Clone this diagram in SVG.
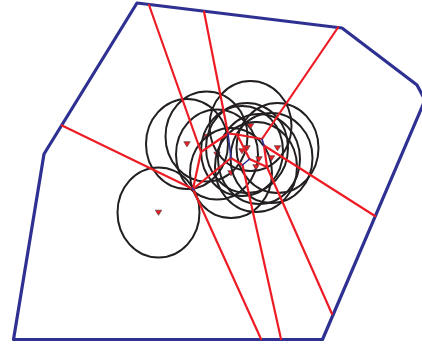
<svg xmlns="http://www.w3.org/2000/svg" width="422" height="346" viewBox="0 0 422 346">
<style>
.bd{fill:none;stroke:#2e3192;stroke-width:3.2;stroke-linejoin:round}
.ed{fill:none;stroke:#ed1c24;stroke-width:2.2;stroke-linecap:round}
.eb{fill:none;stroke:#2e3192;stroke-width:1.6;stroke-linecap:round}
.c{fill:none;stroke:#231f20;stroke-width:2}
.t{fill:#ed1c24;stroke:#5a3a3a;stroke-width:0.7}
</style>
<defs>
<path id="tri" d="M-3.2,-2.3 L3.2,-2.3 L0,2.8 Z"/>
</defs>
<rect width="422" height="346" fill="#fff"/>
<g id="boundary">
<path class="bd" d="M137,3 L342,28 L417,85 L425,100 L322.5,339.5 L13.5,339.5 L44,154 Z"/>
</g>
<g id="nodes">
<g id="s1"><ellipse class="c" cx="158.5" cy="212.5" rx="41" ry="45"/><use href="#tri" class="t" x="158.5" y="212.5"/></g>
<g id="s2"><ellipse class="c" cx="187" cy="144" rx="41" ry="45"/><use href="#tri" class="t" x="187" y="144"/></g>
<g id="s3"><ellipse class="c" cx="206.5" cy="136.5" rx="41" ry="45"/><use href="#tri" class="t" x="206.5" y="136.5"/></g>
<g id="s4"><ellipse class="c" cx="217" cy="154.5" rx="41" ry="45"/><use href="#tri" class="t" x="217" y="154.5"/></g>
<g id="s5"><ellipse class="c" cx="231" cy="173" rx="41" ry="45"/><use href="#tri" class="t" x="231" y="173"/></g>
<g id="s6"><ellipse class="c" cx="242" cy="151" rx="41" ry="45"/><use href="#tri" class="t" x="242" y="151"/></g>
<g id="s7"><ellipse class="c" cx="247" cy="148" rx="41" ry="45"/><use href="#tri" class="t" x="247" y="148"/></g>
<g id="s8"><ellipse class="c" cx="250.5" cy="126" rx="41" ry="45"/><use href="#tri" class="t" x="250.5" y="126"/></g>
<g id="s9"><ellipse class="c" cx="259" cy="159" rx="41" ry="45"/><use href="#tri" class="t" x="259" y="159"/></g>
<g id="s10"><ellipse class="c" cx="256" cy="167" rx="41" ry="45"/><use href="#tri" class="t" x="256" y="167"/></g>
<g id="s11"><ellipse class="c" cx="271.5" cy="158" rx="41" ry="45"/><use href="#tri" class="t" x="271.5" y="158"/></g>
<g id="s12"><ellipse class="c" cx="277.5" cy="148" rx="41" ry="45"/><use href="#tri" class="t" x="277.5" y="148"/></g>
</g>
<g id="connectors">
<path class="ed" d="M149,5 L201,152"/>
<path class="ed" d="M204,11.5 L228,133.5"/>
<path class="ed" d="M338,27.5 L262,139"/>
<path class="ed" d="M62,125.5 L193,189"/>
<path class="ed" d="M193,189 L261,339"/>
<path class="ed" d="M201,152 L193,189"/>
<path class="ed" d="M201,152 L228,133.5"/>
<path class="ed" d="M228,133.5 L237,134.5"/>
<path class="ed" d="M237,134.5 L262,139"/>
<path class="ed" d="M237,134.5 L249.5,159"/>
<path class="ed" d="M231,158 L193,189"/>
<path class="ed" d="M231,158 L242.5,165"/>
<path class="ed" d="M249.5,159 L267,167"/>
<path class="ed" d="M264,145.5 L375,216"/>
<path class="ed" d="M264,145.5 L267,167"/>
<path class="ed" d="M267,167 L332,314"/>
<path class="ed" d="M242.5,165 L281,339"/>
<path class="eb" d="M228,133.5 L231,158"/>
<path class="eb" d="M242.5,165 L249.5,159"/>
<path class="eb" d="M262,139 L264,145.5"/>
<path class="eb" d="M192,188 L194,190"/>
</g>
</svg>
